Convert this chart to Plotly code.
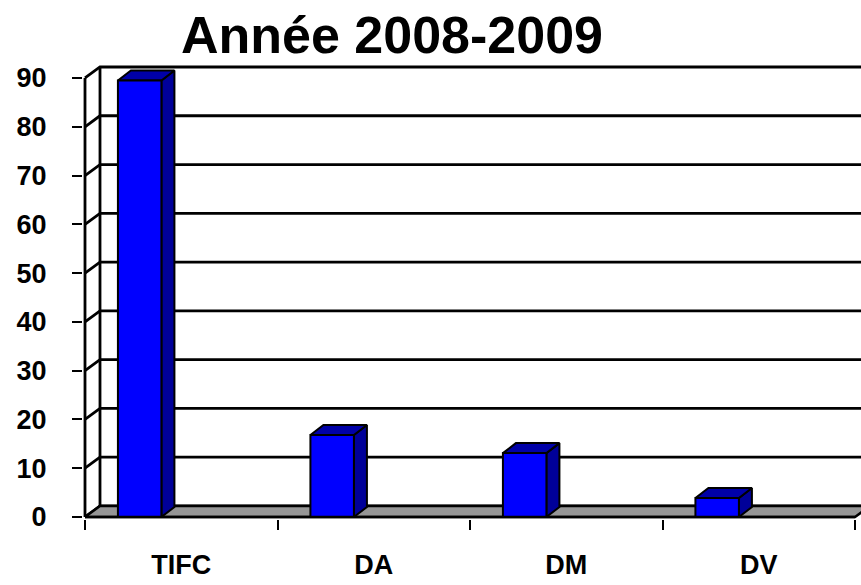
import plotly.graph_objects as go

# ---- data ----
categories = ["TIFC", "DA", "DM", "DV"]
values = [89.5, 16.8, 13.1, 3.9]
y_ticks = [0, 10, 20, 30, 40, 50, 60, 70, 80, 90]
title_text = "Année 2008-2009"

# ---- geometry / style (pixel based) ----
W, H = 861, 585
px_per_cat = 192.5          # px per category unit on x
px_per_val = 4.878          # px per value unit on y
L, R, T, B = 83, 0, 60, 66
plot_w = W - L - R
plot_h = H - T - B
x0 = -(85 - L) / px_per_cat
x1 = x0 + plot_w / px_per_cat
y0 = -2 / px_per_val
y1 = y0 + plot_h / px_per_val

dxw = 15 / px_per_cat       # wall depth
dyw = 11 / px_per_val
dxb = 13 / px_per_cat       # bar depth
dyb = 10 / px_per_val
bar_off = 0.171             # bar left offset inside category
bar_w = 0.226
ymax = max(y_ticks)
ncat = len(categories)

fig = go.Figure()

def poly(xs, ys, fill, lw=2, color="black"):
    fig.add_trace(go.Scatter(x=xs + [xs[0]], y=ys + [ys[0]], mode="lines",
                             fill="toself", fillcolor=fill,
                             line=dict(color=color, width=lw),
                             hoverinfo="skip", showlegend=False))

# back wall (white)
poly([dxw, x1 + 1, x1 + 1, dxw], [dyw, dyw, ymax + dyw, ymax + dyw], "white", lw=0, color="rgba(0,0,0,0)")

# gridlines: front tick -> slant -> back wall horizontal
gx, gy = [], []
for v in y_ticks:
    gx += [0, dxw, x1 + 1, None]
    gy += [v, v + dyw, v + dyw, None]
fig.add_trace(go.Scatter(x=gx, y=gy, mode="lines", line=dict(color="black", width=2.8),
                         hoverinfo="skip", showlegend=False))
# left wall vertical edges
fig.add_trace(go.Scatter(x=[0, 0, None, dxw, dxw], y=[0, ymax, None, dyw, ymax + dyw],
                         mode="lines", line=dict(color="black", width=2.8),
                         hoverinfo="skip", showlegend=False))

# floor
poly([0, ncat, ncat + dxw, dxw], [0, 0, dyw, dyw], "#969696", lw=2.5)

# bars
for i, v in enumerate(values):
    xa = i + bar_off
    xb = xa + bar_w
    poly([xb, xb + dxb, xb + dxb, xb], [0, dyb, v + dyb, v], "#000099")      # side
    poly([xa, xb, xb + dxb, xa + dxb], [v, v, v + dyb, v + dyb], "#0000A8")  # top
    poly([xa, xb, xb, xa], [0, 0, v, v], "#0000FF")                          # front

# front x axis line
fig.add_trace(go.Scatter(x=[0, ncat], y=[0, 0], mode="lines", line=dict(color="black", width=2.5),
                         hoverinfo="skip", showlegend=False))

fig.update_layout(
    width=W, height=H, autosize=False,
    margin=dict(l=L, r=R, t=T, b=B),
    paper_bgcolor="white", plot_bgcolor="white",
    showlegend=False,
    title=dict(text="<b>" + title_text + "</b>", x=392 / W, xanchor="center",
               y=1 - 35 / H, yanchor="middle",
               font=dict(family="Liberation Sans, Arial", size=52, color="black")),
    xaxis=dict(range=[x0, x1], showgrid=False, zeroline=False, showline=False,
               tickvals=[i + 0.5 for i in range(ncat)],
               ticktext=[f"<b>{c}</b>" for c in categories],
               ticks="", ticklabelstandoff=27,
               tickfont=dict(family="Liberation Sans, Arial", size=27, color="black"),
               minor=dict(tickvals=list(range(ncat + 1)), ticks="outside", ticklen=10,
                          tickwidth=2, tickcolor="black"),
               fixedrange=True, automargin=False),
    yaxis=dict(range=[y0, y1], showgrid=False, zeroline=False, showline=False,
               tickvals=y_ticks, ticktext=[f"<b>{t}</b>" for t in y_ticks],
               ticks="outside", ticklen=10, tickwidth=2, tickcolor="black",
               ticklabelstandoff=20,
               tickfont=dict(family="Liberation Sans, Arial", size=27, color="black"),
               fixedrange=True, automargin=False),
)

fig.write_html("out.html", config={"displayModeBar": False},
               post_script="document.body.style.margin='0';document.body.style.overflow='hidden';")
